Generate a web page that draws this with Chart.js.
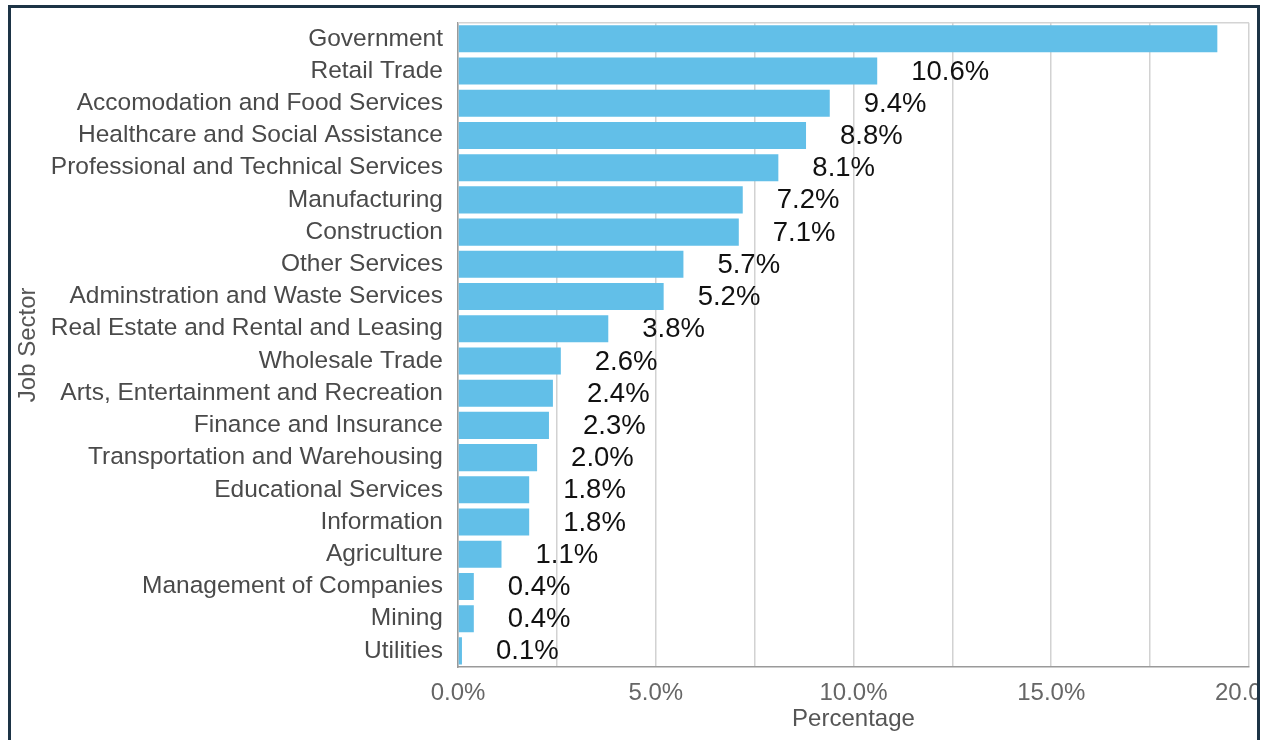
<!DOCTYPE html>
<html>
<head>
<meta charset="utf-8">
<script src="https://cdn.jsdelivr.net/npm/chart.js@4/dist/chart.umd.min.js"></script>
<style>
    html, body { margin: 0; padding: 0; background: #fff; overflow: hidden; }
    #frame {
        position: absolute;
        left: 8px;
        top: 5px;
        width: 1246px;
        height: 800px;
        border: 3px solid #1d3446;
        overflow: hidden;
        background: #fff;
    }
    #wrap {
        position: absolute;
        left: 0;
        top: -15px;
        width: 1284px;
        height: 747px;
    }
</style>
</head>
<body>
<div id="frame">
    <div id="wrap"><canvas id="sectoresChart"></canvas></div>
</div>
<script>
// ========== DATOS ==========
const sectores = [
    'Government', 'Retail Trade', 'Accomodation and Food Services',
    'Healthcare and Social Assistance', 'Professional and Technical Services',
    'Manufacturing', 'Construction', 'Other Services', 'Adminstration and Waste Services',
    'Real Estate and Rental and Leasing', 'Wholesale Trade', 'Arts, Entertainment and Recreation',
    'Finance and Insurance', 'Transportation and Warehousing', 'Educational Services',
    'Information', 'Agriculture', 'Management of Companies', 'Mining', 'Utilities'
];
const porcentajes = [
    19.2, 10.6, 9.4, 8.8, 8.1, 7.2, 7.1, 5.7, 5.2, 3.8,
    2.6, 2.4, 2.3, 2.0, 1.8, 1.8, 1.1, 0.4, 0.4, 0.1
];
const ticksX = [0, 5, 10, 15, 20];

const fuente = "'Liberation Sans', Arial, Helvetica, sans-serif";

// Etiquetas de valor a la derecha de cada barra (se omiten si no caben)
const etiquetasValor = {
    id: 'etiquetasValor',
    afterDatasetsDraw(chart) {
        const ctx = chart.ctx;
        const area = chart.chartArea;
        const meta = chart.getDatasetMeta(0);
        ctx.save();
        ctx.font = '27.5px ' + fuente;
        ctx.fillStyle = '#111';
        ctx.textAlign = 'left';
        ctx.textBaseline = 'middle';
        meta.data.forEach((bar, i) => {
            const texto = porcentajes[i].toFixed(1) + '%';
            const x = bar.x + 34;
            if (x + ctx.measureText(texto).width > area.right) return;
            ctx.fillText(texto, x, bar.y + 1);
        });
        ctx.restore();
    }
};

// Borde superior del área de trazado
const bordeArea = {
    id: 'bordeArea',
    beforeDatasetsDraw(chart) {
        const { ctx, chartArea } = chart;
        ctx.save();
        ctx.strokeStyle = '#d4d4d4';
        ctx.lineWidth = 1.5;
        ctx.beginPath();
        ctx.moveTo(chartArea.left, chartArea.top);
        ctx.lineTo(chartArea.right, chartArea.top);
        ctx.stroke();
        ctx.restore();
    }
};

const ctx = document.getElementById('sectoresChart').getContext('2d');
const sectoresChart = new Chart(ctx, {
    type: 'bar',
    data: {
        labels: sectores,
        datasets: [{
            label: 'Percentage',
            data: porcentajes,
            backgroundColor: '#62bfe8',
            borderWidth: 0,
            barPercentage: 0.84,
            categoryPercentage: 1.0
        }]
    },
    options: {
        indexAxis: 'y',
        responsive: true,
        maintainAspectRatio: false,
        animation: false,
        layout: {
            padding: { left: 0, right: 35, top: 0, bottom: 0 }
        },
        plugins: {
            legend: { display: false },
            tooltip: { enabled: false }
        },
        scales: {
            x: {
                min: 0,
                max: 20,
                afterBuildTicks: scale => {
                    scale.ticks = [];
                    for (let v = 0; v <= 20; v += 2.5) scale.ticks.push({ value: v });
                },
                afterFit: scale => { scale.height = 73; },
                ticks: {
                    padding: 12,
                    color: '#666',
                    maxRotation: 0,
                    autoSkip: false,
                    font: { family: fuente, size: 24 },
                    callback: value => ticksX.includes(value) ? value.toFixed(1) + '%' : ''
                },
                grid: {
                    color: '#d2d2d2',
                    lineWidth: 1.5,
                    drawTicks: false
                },
                border: { color: '#9a9a9a', width: 1.5 },
                title: {
                    display: true,
                    text: 'Percentage',
                    color: '#555',
                    padding: { top: 6, bottom: 6 },
                    font: { family: fuente, size: 24 }
                }
            },
            y: {
                afterFit: scale => { scale.width = 447; },
                ticks: {
                    padding: 15,
                    color: '#4a4a4a',
                    autoSkip: false,
                    font: { family: fuente, size: 24.5 }
                },
                grid: { display: false, drawTicks: false },
                border: { color: '#9a9a9a', width: 1.5 },
                title: {
                    display: true,
                    text: 'Job Sector',
                    color: '#555',
                    padding: { top: 3, bottom: 3 },
                    font: { family: fuente, size: 24 }
                }
            }
        }
    },
    plugins: [etiquetasValor, bordeArea]
});
</script>
</body>
</html>
